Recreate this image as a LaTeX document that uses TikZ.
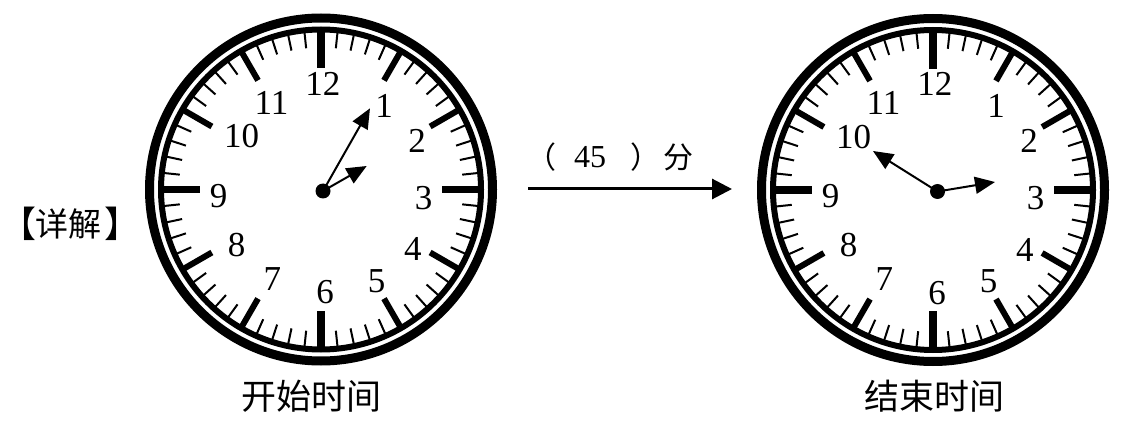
\documentclass[tikz,border=0pt]{standalone}
\usepackage{fontspec}
\setmainfont{Liberation Serif}
\newfontfamily\cjk{Noto Sans CJK SC}
\usetikzlibrary{arrows.meta,calc}

\tikzset{
  hand/.style={line width=2pt,-{Triangle[length=20pt,width=17pt]}},
  num/.style={font=\fontsize{35}{35}\selectfont, inner sep=0pt},
  caption/.style={font=\cjk\fontsize{35}{35}\selectfont, inner sep=0pt},
  midtext/.style={font=\cjk\fontsize{30}{30}\selectfont, inner sep=0pt},
  headtext/.style={font=\cjk\fontsize{33}{33}\selectfont, inner sep=0pt},
  brackettext/.style={font=\cjk\fontsize{36}{36}\selectfont, inner sep=0pt},
  hubdot/.style={fill=black, circle, inner sep=0pt, minimum size=15pt},
}

\newcommand\drawclock[3]{%
  \coordinate (#1) at (#2,#3);
  \draw[line width=9pt] (#1) circle[radius=171.5];
  \draw[line width=6pt] (#1) circle[radius=160];
  \foreach \i in {0,...,59}{%
    \pgfmathsetmacro\ang{-90+6*\i}%
    \pgfmathtruncatemacro\mfive{mod(\i,5)}%
    \pgfmathtruncatemacro\mfifteen{mod(\i,15)}%
    \ifnum\mfifteen=0 \def\tlen{37}\def\tlw{7.5pt}\else
      \ifnum\mfive=0 \def\tlen{32}\def\tlw{6pt}\else\def\tlen{16}\def\tlw{2pt}\fi\fi
    \pgfmathsetmacro\rin{158-\tlen}%
    \draw[line width=\tlw] ($(#1)+(\ang:158)$) -- ($(#1)+(\ang:\rin)$);
  }
  \foreach \n/\dx/\dy in {12/1.8/-105.8, 1/63.2/-83.9, 2/96/-49, 3/102.7/8.5,
      4/91.8/59.9, 5/55.5/91.5, 6/4.2/103, 7/-48.7/89.5, 8/-84.5/55.2,
      9/-102.3/6.1, 10/-79.5/-53, 11/-49.5/-86.7}{%
    \node[num] (#1n\n) at ($(#1)+(\dx,\dy)$) {\n};
  }
}

\begin{document}
\begin{tikzpicture}[x=1pt,y=-1pt]
  \useasboundingbox[fill=white] (0,0) rectangle (1128,425);

  % left clock
  \drawclock{L}{321}{189.5}
  \coordinate (Lhub) at (323,191);
  \coordinate (Lmin) at (370,108.3);
  \coordinate (Lhr) at (366.7,166);
  \draw[hand] (Lhub) -- (Lmin);
  \draw[hand] (Lhub) -- (Lhr);
  \node[hubdot] (Ldot) at (Lhub) {};

  % right clock
  \drawclock{R}{933}{190}
  \coordinate (Rhub) at (937.5,191.5);
  \coordinate (Rmin) at (873,151);
  \coordinate (Rhr) at (995,182);
  \draw[hand] (Rhub) -- (Rmin);
  \draw[hand] (Rhub) -- (Rhr);
  \node[hubdot] (Rdot) at (Rhub) {};

  % texts
  \node[brackettext, anchor=west] (xjl) at (0.5,224) {【};
  \node[headtext] (xj) at (68.5,224) {详解};
  \node[brackettext] (xjr) at (122,224) {】};
  \node[caption] (cs) at (311,396) {开始时间};
  \node[caption] (ce) at (934,396) {结束时间};

  % middle arrow
  \coordinate (a1) at (528,189);
  \coordinate (a2) at (732,189);
  \draw[line width=3pt,-{Triangle[length=20pt,width=20pt]}] (a1) -- (a2);
  \node[midtext] (lp) at (541.5,157) {（};
  \node[inner sep=0pt, font=\fontsize{32}{32}\selectfont] (n45) at (590,157) {45};
  \node[midtext] (rp) at (645,157) {）};
  \node[midtext] (fen) at (678,157) {分};
\end{tikzpicture}
\end{document}
